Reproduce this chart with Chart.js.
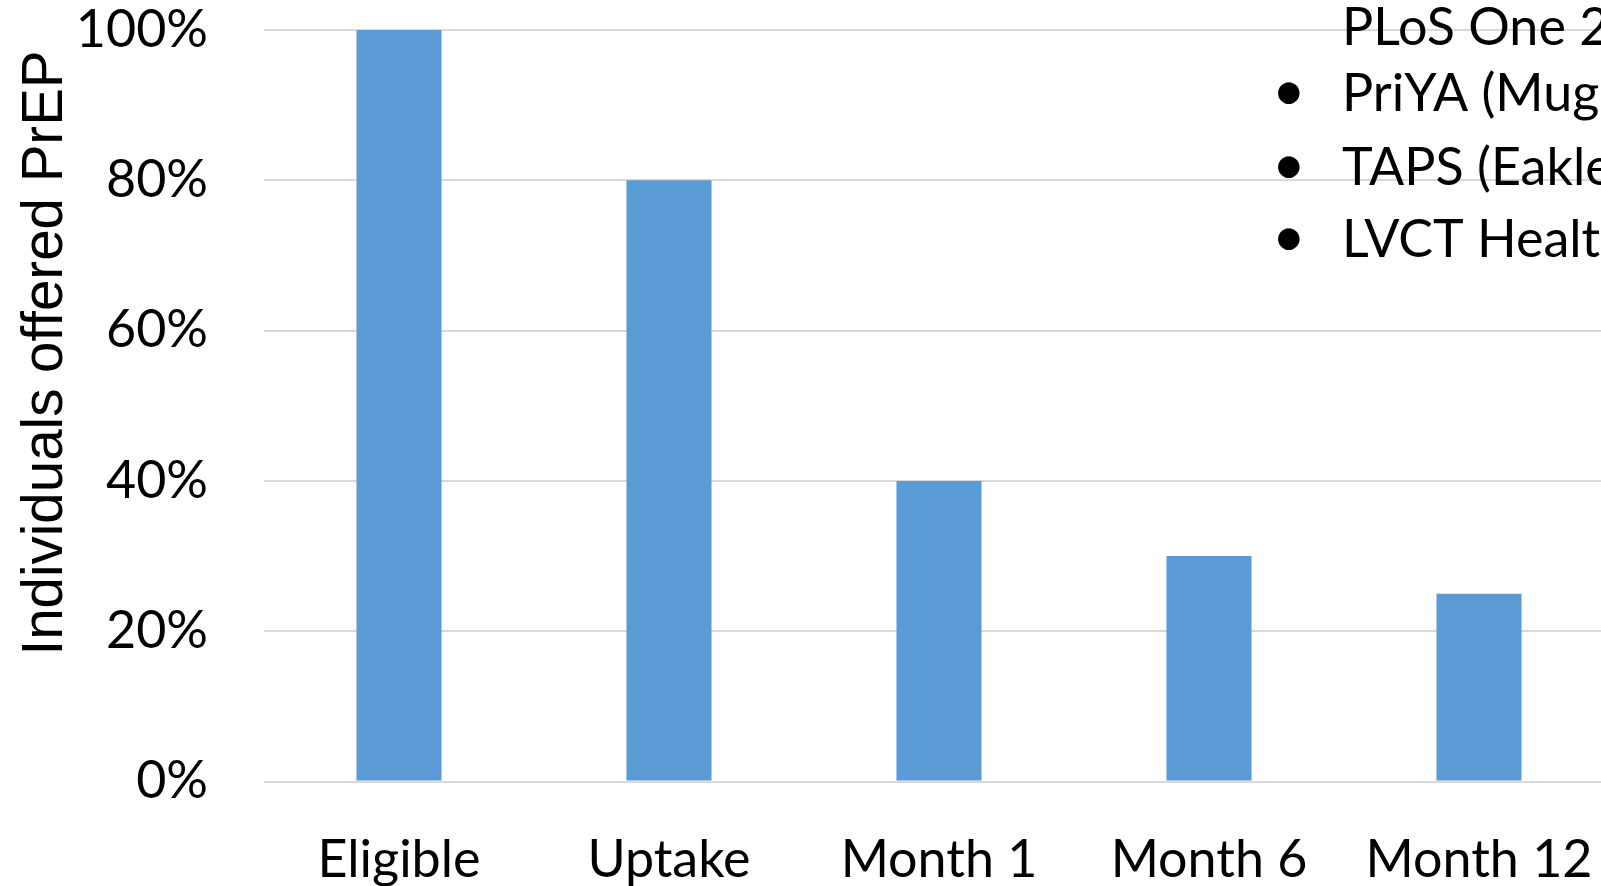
<!DOCTYPE html>
<html><head><meta charset="utf-8">
<script src="https://cdn.jsdelivr.net/npm/chart.js@4.4.1/dist/chart.umd.min.js"></script>
<style>
html,body{margin:0;padding:0;overflow:hidden;background:#fff;width:1601px;height:886px}
#wrap{position:absolute;left:0;top:0;width:1620px;height:886px}
</style></head><body>
<div id="wrap"><canvas id="c" width="1620" height="886"></canvas></div>
<script>
const categories = ['Eligible', 'Uptake', 'Month 1', 'Month 6', 'Month 12'];
const values = [100, 80, 40, 30, 25];
const yTicks = [0, 20, 40, 60, 80, 100];
const yTitle = 'Individuals offered PrEP';
const noteHeading = 'PLoS One 2';
const noteBullets = ['PriYA (Mug', 'TAPS (Eakle', 'LVCT Healt'];

const labelFont = {family: 'Lato', size: 52, lineHeight: 1};

function zeroPad(s) {
  s.paddingTop = 0; s.paddingBottom = 0; s.paddingLeft = 0; s.paddingRight = 0;
}

const overlay = {
  id: 'overlay',
  afterDraw(chart) {
    const ctx = chart.ctx;
    ctx.save();
    ctx.fillStyle = '#000';
    // y-axis title
    ctx.save();
    ctx.translate(62, 353);
    ctx.rotate(-Math.PI / 2);
    ctx.font = '56.5px "Liberation Sans"';
    ctx.textAlign = 'center';
    ctx.textBaseline = 'alphabetic';
    ctx.fillText(yTitle, 0, 0);
    ctx.restore();
    // note text
    ctx.font = '52px Lato';
    ctx.textAlign = 'left';
    ctx.textBaseline = 'alphabetic';
    const baselines = [45, 111, 185, 257];
    ctx.fillText(noteHeading, 1342, baselines[0]);
    noteBullets.forEach((t, i) => {
      ctx.save();
      ctx.font = '58px Lato';
      ctx.fillText('\u2022', 1272, baselines[i + 1]);
      ctx.restore();
      ctx.fillText(t, 1342, baselines[i + 1]);
    });
    ctx.restore();
  }
};

new Chart(document.getElementById('c'), {
  type: 'bar',
  data: {
    labels: categories,
    datasets: [{
      data: values,
      backgroundColor: '#5B9BD5',
      borderWidth: 0,
      categoryPercentage: 1,
      barPercentage: 0.315
    }]
  },
  options: {
    responsive: false,
    animation: false,
    layout: {padding: {left: 0, right: 6, top: 30, bottom: 0}},
    plugins: {legend: {display: false}, tooltip: {enabled: false}},
    scales: {
      x: {
        grid: {display: false, drawTicks: false},
        border: {display: false},
        ticks: {color: '#000', font: labelFont, padding: 53, maxRotation: 0, autoSkip: false},
        afterFit(s) { s.height = 104.5; zeroPad(s); }
      },
      y: {
        min: 0, max: 100,
        afterBuildTicks(s) { s.ticks = yTicks.map(v => ({value: v})); },
        grid: {color: '#d9d9d9', lineWidth: 2, drawTicks: false},
        border: {display: false},
        ticks: {color: '#000', font: labelFont, padding: 56, callback: v => v + '%'},
        afterFit(s) { s.width = 264; zeroPad(s); }
      }
    }
  },
  plugins: [overlay]
});
</script>
</body></html>
